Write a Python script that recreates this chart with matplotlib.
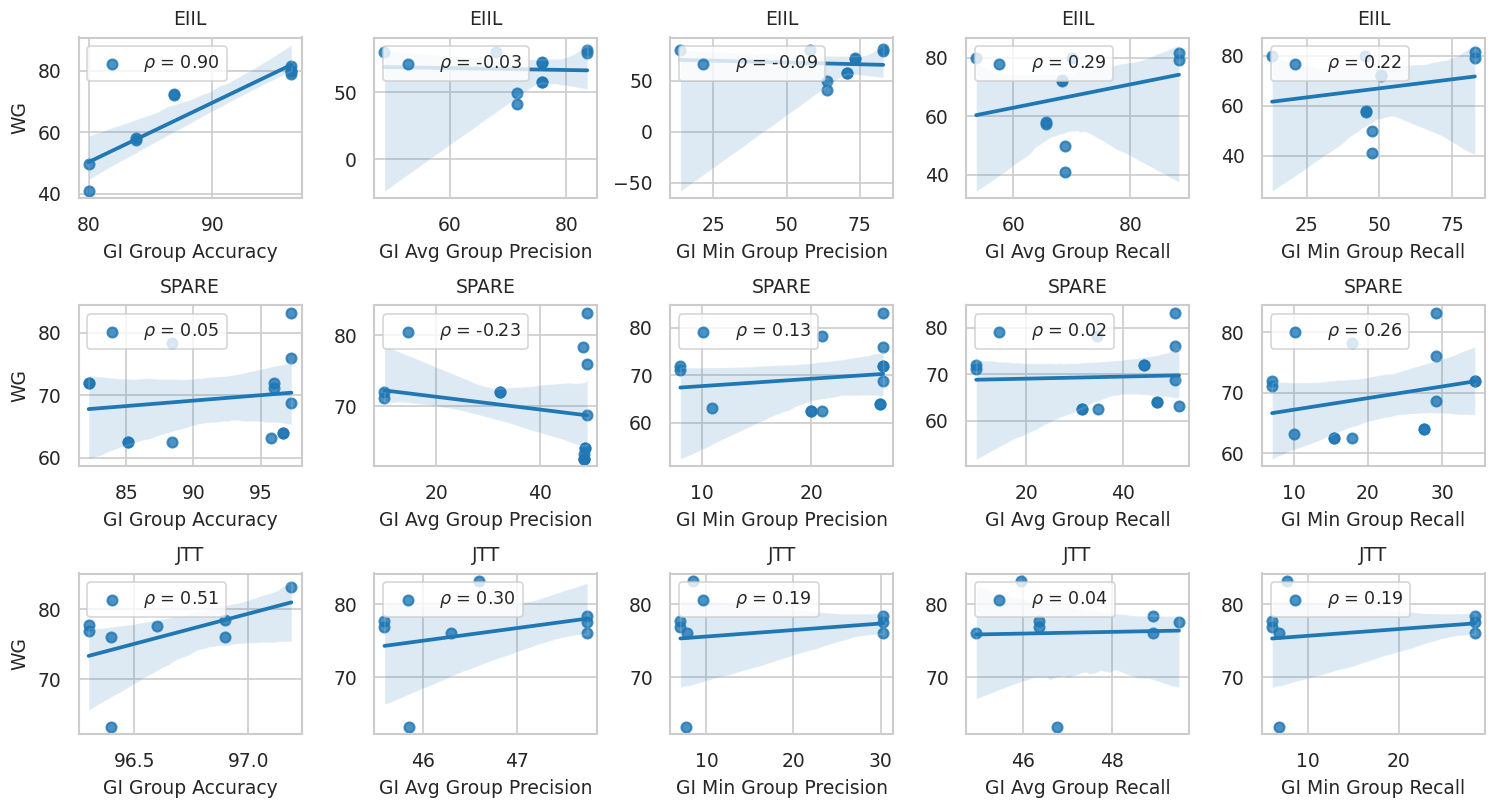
import numpy as np
import matplotlib.pyplot as plt
import seaborn as sns

sns.set_style('whitegrid')
sns.set_context('paper')

methods = ['EIIL', 'SPARE', 'JTT']
metrics = ['GI Group Accuracy', 'GI Avg Group Precision', 'GI Min Group Precision',
           'GI Avg Group Recall', 'GI Min Group Recall']

# EIIL runs (one run sits behind the legend box)
eiil_wg = [81.5, 80.0, 79.0, 80.0, 72.4, 72.0, 58.0, 57.4, 49.7, 40.9]
eiil_acc = [96.4, 96.4, 96.4, 96.4, 86.9, 86.9, 83.8, 83.8, 80.0, 80.0]
eiil_avg_prec = [83.6, 48.8, 83.6, 68.0, 75.9, 75.9, 75.9, 75.9, 71.6, 71.6]
eiil_min_prec = [83.0, 13.7, 83.0, 58.0, 73.4, 73.4, 70.5, 70.5, 63.9, 63.9]
eiil_avg_rec = [88.3, 53.7, 88.3, 70.0, 68.4, 68.4, 65.6, 65.6, 68.8, 68.8]
eiil_min_rec = [82.9, 13.1, 82.9, 45.0, 50.6, 50.6, 45.6, 45.6, 47.6, 47.6]
eiil_rho = [0.90, -0.03, -0.09, 0.29, 0.22]

# SPARE runs
spare_wg = [83.2, 78.3, 76.0, 72.0, 71.2, 72.0, 72.0, 68.7, 64.0, 64.0, 63.2, 62.5, 62.5, 62.5]
spare_acc = [97.3, 88.4, 97.3, 96.0, 96.0, 82.2, 82.2, 97.3, 96.7, 96.7, 95.8, 85.1, 85.1, 88.4]
spare_avg_prec = [49.2, 48.3, 49.2, 10.0, 10.0, 32.3, 32.3, 49.2, 48.8, 48.8, 48.5, 48.5, 48.5, 48.5]
spare_min_prec = [26.6, 21.0, 26.6, 8.0, 8.0, 26.6, 26.6, 26.6, 26.3, 26.3, 10.9, 20.0, 20.0, 21.0]
spare_avg_rec = [50.8, 34.6, 50.8, 9.7, 9.7, 44.3, 44.3, 50.8, 47.0, 47.0, 51.6, 31.6, 31.6, 34.8]
spare_min_rec = [29.2, 17.9, 29.2, 7.1, 7.1, 34.4, 34.4, 29.2, 27.6, 27.6, 10.0, 15.5, 15.5, 17.9]
spare_rho = [0.05, -0.23, 0.13, 0.02, 0.26]

# JTT runs
jtt_wg = [83.2, 78.4, 77.7, 77.6, 76.9, 76.0, 76.0, 63.2]
jtt_acc = [97.19, 96.90, 96.30, 96.60, 96.30, 96.40, 96.90, 96.40]
jtt_avg_prec = [46.59, 47.74, 45.59, 47.74, 45.59, 46.29, 47.74, 45.85]
jtt_min_prec = [8.5, 30.3, 7.0, 30.3, 7.0, 7.8, 30.3, 7.7]
jtt_avg_rec = [45.95, 48.92, 46.36, 49.51, 46.36, 44.95, 48.92, 46.76]
jtt_min_rec = [7.6, 28.4, 6.0, 28.4, 6.0, 6.8, 28.4, 6.8]
jtt_rho = [0.51, 0.30, 0.19, 0.04, 0.19]

rows = [
    (eiil_wg, [eiil_acc, eiil_avg_prec, eiil_min_prec, eiil_avg_rec, eiil_min_rec], eiil_rho),
    (spare_wg, [spare_acc, spare_avg_prec, spare_min_prec, spare_avg_rec, spare_min_rec], spare_rho),
    (jtt_wg, [jtt_acc, jtt_avg_prec, jtt_min_prec, jtt_avg_rec, jtt_min_rec], jtt_rho),
]

fig, axes = plt.subplots(3, 5, figsize=(1495 / 150, 808 / 150), dpi=150)
for i, (wg, xs, rhos) in enumerate(rows):
    for j in range(5):
        ax = axes[i, j]
        sns.regplot(x=np.array(xs[j]), y=np.array(wg), ax=ax, seed=1,
                    label='$\\rho$ = %.2f' % rhos[j])
        ax.set_title(methods[i], fontsize=9)
        ax.set_xlabel(metrics[j], fontsize=9)
        ax.set_ylabel('WG' if j == 0 else '', fontsize=9)
        ax.tick_params(labelsize=9)
        ax.legend(loc='upper left', fontsize=8.4)

plt.tight_layout(pad=0.5, w_pad=0.8, h_pad=0.8)
plt.savefig('out.png', dpi=150)
